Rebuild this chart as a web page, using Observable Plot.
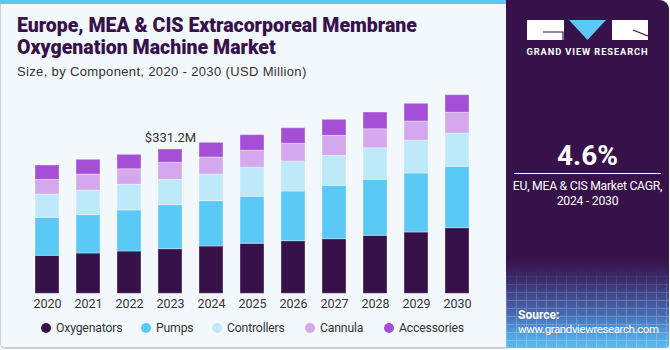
<!DOCTYPE html>
<html><head><meta charset="utf-8">
<script src="https://cdn.jsdelivr.net/npm/d3@7"></script>
<script src="https://cdn.jsdelivr.net/npm/@observablehq/plot@0.6"></script>
<style>
html,body{margin:0;padding:0;width:670px;height:350px;overflow:hidden;background:#ffffff;font-family:Roboto,"Liberation Sans",sans-serif;}
#left{position:absolute;left:0;top:0;width:507px;height:349px;background:#f3f8fc;border-left:1px solid #cdd3d8;border-bottom:2px solid #cdd1d5;box-sizing:border-box;border-bottom-left-radius:5px;}
#stripe{position:absolute;left:0;top:0;width:507px;height:4px;background:#5bc8f5;}
#right{position:absolute;left:506px;top:0;width:163px;height:348px;border-top-right-radius:9px;border-bottom-right-radius:3px;overflow:hidden;
 background:linear-gradient(to bottom,#37114a 0%,#37114a 74%,#3b2a6a 80%,#4568b0 90%,#55a8e4 97%,#5bbcf0 100%);}
#grid{position:absolute;left:0;top:268px;width:163px;height:80px;opacity:0.22;
 background-image:repeating-linear-gradient(to right,#ffffff 0 1px,transparent 1px 10px),repeating-linear-gradient(to bottom,#ffffff 0 1px,transparent 1px 8px);
 -webkit-mask-image:linear-gradient(to bottom,transparent,#000 40%);}
#title{position:absolute;left:17px;top:15px;font-size:19.5px;line-height:21.7px;font-weight:900;color:#37114a;}
#subtitle{position:absolute;left:17px;top:64px;font-size:13px;color:#333;font-family:"Liberation Sans",sans-serif;letter-spacing:0.35px;}
#chart{position:absolute;left:0;top:80px;}
#legend{position:absolute;left:0;top:320px;width:506px;height:16px;font-size:12.2px;color:#333;}
.item{position:absolute;top:0;display:flex;align-items:center;height:16px;white-space:nowrap;letter-spacing:-0.15px;}
.sw{width:10px;height:10px;border-radius:50%;margin-right:5px;}
.rt{position:absolute;color:#fff;text-align:center;width:163px;left:0;white-space:nowrap;}
</style></head>
<body>
<div id="left"></div>
<div id="stripe"></div>
<div id="title">Europe, MEA &amp; CIS Extracorporeal Membrane<br>Oxygenation Machine Market</div>
<div id="subtitle">Size, by Component, 2020 - 2030 (USD Million)</div>
<div id="chart"></div>
<div id="legend"></div>
<div id="right">
  <div id="grid"></div>
  <svg style="position:absolute;left:0;top:0" width="163" height="60">
    <rect x="21" y="20" width="37" height="20" fill="#fff"/>
    <path d="M37 32 H57 V40" fill="none" stroke="#37114a" stroke-width="1.2"/>
    <polygon points="63,20 100,20 81.5,40" fill="#5bc8f5"/>
    <rect x="106" y="20" width="36" height="20" fill="#fff"/>
    <path d="M127 30 L142 36" fill="none" stroke="#37114a" stroke-width="1.2"/>
    <text x="81.5" y="54.5" text-anchor="middle" fill="#fff" font-size="9.3" font-weight="700" letter-spacing="0.9" font-family="Roboto, Liberation Sans, sans-serif">GRAND VIEW RESEARCH</text>
  </svg>
  <div class="rt" style="top:139px;font-size:28px;font-weight:700;">4.6%</div>
  <div style="position:absolute;left:8px;top:173px;width:147px;height:1px;background:#fff;"></div>
  <div class="rt" style="top:179px;font-size:12.2px;line-height:14.5px;letter-spacing:-0.25px;">EU, MEA &amp; CIS Market CAGR,<br>2024 - 2030</div>
  <div style="position:absolute;left:12px;top:308px;color:#fff;font-size:11.5px;line-height:14px;letter-spacing:-0.4px;white-space:nowrap;"><b style="font-size:12px;letter-spacing:0">Source:</b><br>www.grandviewresearch.com</div>
</div>
<script>
const years = ["2020","2021","2022","2023","2024","2025","2026","2027","2028","2029","2030"];
const components = ["Oxygenators","Pumps","Controllers","Cannula","Accessories"];
const colors = ["#37114a","#5bc9f6","#bde9f9","#d4a8ec","#a44fd6"];
const oxygenators = [87.2, 92.5, 97.1, 102.4, 108.6, 114.8, 120.7, 125.3, 133.1, 140.7, 150.6];
const pumps       = [87.2, 88.0, 94.1, 101.0, 104.0, 107.9, 114.0, 122.5, 128.5, 135.4, 140.9];
const controllers = [53.5, 56.6, 58.9, 58.3, 61.2, 66.6, 68.9, 68.9, 72.5, 75.0, 76.4];
const cannula     = [33.7, 36.7, 35.8, 39.0, 39.0, 39.0, 40.6, 45.9, 43.6, 44.3, 47.5];
const accessories = [32.8, 33.7, 33.0, 30.5, 33.7, 35.8, 35.8, 36.7, 38.3, 40.6, 40.4];
const annotationYears = ["2023"];
const annotationLabels = ["$331.2M"];
const legendLeft = [41, 141, 212, 305, 384];

const series = [oxygenators, pumps, controllers, cannula, accessories];
const data = [];
components.forEach((c, j) => years.forEach((y, i) => data.push({year: y, component: c, value: series[j][i]})));
const totals = years.map((y, i) => d3.sum(series, s => s[i]));
const notes = annotationYears.map((y, k) => ({year: y, total: totals[years.indexOf(y)], label: annotationLabels[k]}));

const baseline = 213.3, pxPerUnit = 1 / 2.295, yMax = 340;
const chart = Plot.plot({
  width: 505, height: 230,
  marginLeft: 13, marginRight: 13.4, marginTop: 0, marginBottom: 230 - baseline,
  style: {background: "transparent", fontFamily: "Roboto, Liberation Sans, sans-serif", color: "#333", fontSize: "12.5px"},
  x: {domain: years, padding: 0.42, label: null, tickSize: 0, tickPadding: 5},
  y: {domain: [0, yMax], range: [baseline, baseline - yMax * pxPerUnit], axis: null},
  color: {domain: components, range: colors},
  marks: [
    Plot.barY(data, Plot.stackY({order: components}, {x: "year", y: "value", z: "component", fill: "component", stroke: "#ffffff", strokeOpacity: 0.35, strokeWidth: 1})),
    Plot.text(notes, {x: "year", y: "total", text: "label", dy: -7, lineAnchor: "bottom", fontSize: 13, fill: "#333"})
  ]
});
document.getElementById("chart").appendChild(chart);

const legend = document.getElementById("legend");
components.forEach((c, j) => {
  const it = document.createElement("div"); it.className = "item"; it.style.left = legendLeft[j] + "px";
  const sw = document.createElement("span"); sw.className = "sw"; sw.style.background = colors[j];
  const t = document.createElement("span"); t.textContent = c;
  it.appendChild(sw); it.appendChild(t); legend.appendChild(it);
});
</script>
</body></html>
